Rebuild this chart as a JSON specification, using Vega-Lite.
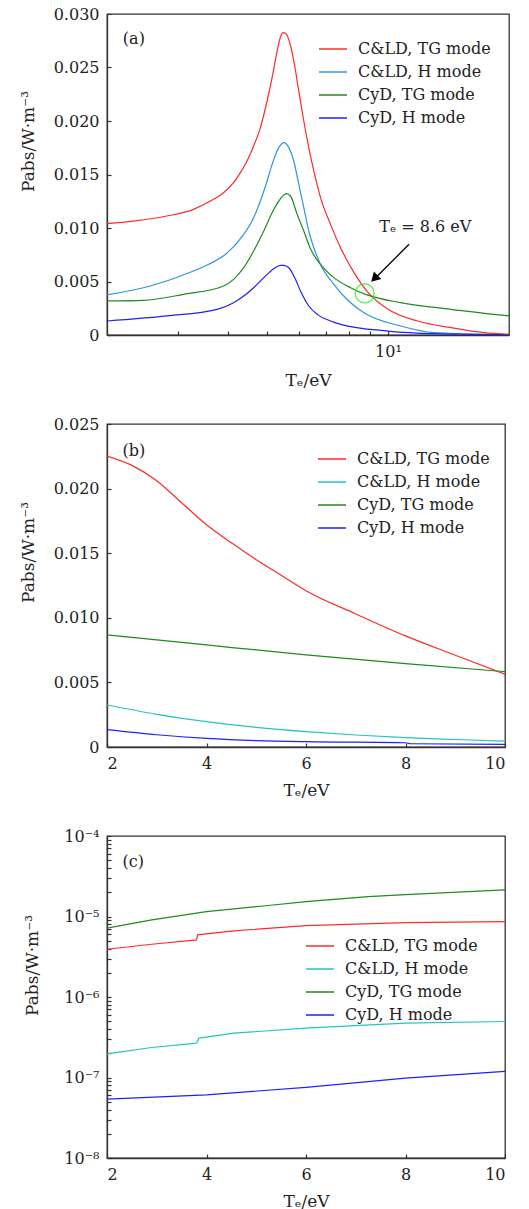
{
  "$schema": "https://vega.github.io/schema/vega-lite/v6.json",
  "background": "white",
  "padding": {"left": 18, "top": 5, "right": 5, "bottom": 5},
  "bounds": "flush",
  "spacing": 89,
  "config": {
    "font": "DejaVu Serif",
    "view": {"stroke": "#333", "strokeWidth": 1.3},
    "axis": {"grid": false, "domainColor": "#333", "domainWidth": 1.3, "tickColor": "#333", "tickSize": -4, "tickWidth": 1.2,
      "labelFont": "DejaVu Serif", "labelFontSize": 16, "labelColor": "#222", "labelPadding": 12, "labelOverlap": false,
      "titleFont": "DejaVu Serif", "titleFontSize": 17, "titleFontWeight": "normal", "titleColor": "#222"},
    "axisY": {"titleAngle": 270, "titleBaseline": "bottom", "titleAlign": "center"},
    "axisX": {"titleBaseline": "top", "titleAlign": "center"},
    "legend": {"title": null, "orient": "none", "symbolType": "stroke", "symbolSize": 784, "symbolStrokeWidth": 1.5,
      "labelFont": "DejaVu Serif", "labelFontSize": 16, "labelColor": "#222", "labelOffset": 10, "rowPadding": -9.5, "padding": 0}
  },
  "datasets": {
    "a": [
      {"series": "C&LD, TG mode", "Te": 2.0, "P": 0.01041},
      {"series": "C&LD, TG mode", "Te": 2.326, "P": 0.01065},
      {"series": "C&LD, TG mode", "Te": 2.818, "P": 0.01112},
      {"series": "C&LD, TG mode", "Te": 3.283, "P": 0.01174},
      {"series": "C&LD, TG mode", "Te": 3.614, "P": 0.01252},
      {"series": "C&LD, TG mode", "Te": 3.899, "P": 0.0133},
      {"series": "C&LD, TG mode", "Te": 4.13, "P": 0.01424},
      {"series": "C&LD, TG mode", "Te": 4.293, "P": 0.01517},
      {"series": "C&LD, TG mode", "Te": 4.461, "P": 0.01626},
      {"series": "C&LD, TG mode", "Te": 4.633, "P": 0.01766},
      {"series": "C&LD, TG mode", "Te": 4.815, "P": 0.01938},
      {"series": "C&LD, TG mode", "Te": 5.003, "P": 0.02187},
      {"series": "C&LD, TG mode", "Te": 5.149, "P": 0.02405},
      {"series": "C&LD, TG mode", "Te": 5.3, "P": 0.02654},
      {"series": "C&LD, TG mode", "Te": 5.401, "P": 0.02785},
      {"series": "C&LD, TG mode", "Te": 5.486, "P": 0.02826},
      {"series": "C&LD, TG mode", "Te": 5.59, "P": 0.0281},
      {"series": "C&LD, TG mode", "Te": 5.696, "P": 0.02732},
      {"series": "C&LD, TG mode", "Te": 5.829, "P": 0.02561},
      {"series": "C&LD, TG mode", "Te": 6.0, "P": 0.0228},
      {"series": "C&LD, TG mode", "Te": 6.174, "P": 0.02},
      {"series": "C&LD, TG mode", "Te": 6.353, "P": 0.01751},
      {"series": "C&LD, TG mode", "Te": 6.539, "P": 0.01533},
      {"series": "C&LD, TG mode", "Te": 6.795, "P": 0.01284},
      {"series": "C&LD, TG mode", "Te": 7.196, "P": 0.01034},
      {"series": "C&LD, TG mode", "Te": 7.621, "P": 0.00816},
      {"series": "C&LD, TG mode", "Te": 8.225, "P": 0.00585},
      {"series": "C&LD, TG mode", "Te": 8.884, "P": 0.00405},
      {"series": "C&LD, TG mode", "Te": 10.0, "P": 0.0024},
      {"series": "C&LD, TG mode", "Te": 11.84, "P": 0.00131},
      {"series": "C&LD, TG mode", "Te": 14.34, "P": 0.00069},
      {"series": "C&LD, TG mode", "Te": 17.35, "P": 0.00022},
      {"series": "C&LD, TG mode", "Te": 20.0, "P": 0.00006},
      {"series": "C&LD, H mode", "Te": 2.0, "P": 0.00374},
      {"series": "C&LD, H mode", "Te": 2.56, "P": 0.00458},
      {"series": "C&LD, H mode", "Te": 3.283, "P": 0.00598},
      {"series": "C&LD, H mode", "Te": 3.614, "P": 0.00668},
      {"series": "C&LD, H mode", "Te": 3.977, "P": 0.00765},
      {"series": "C&LD, H mode", "Te": 4.376, "P": 0.00941},
      {"series": "C&LD, H mode", "Te": 4.59, "P": 0.01065},
      {"series": "C&LD, H mode", "Te": 4.815, "P": 0.01252},
      {"series": "C&LD, H mode", "Te": 5.003, "P": 0.01439},
      {"series": "C&LD, H mode", "Te": 5.149, "P": 0.01595},
      {"series": "C&LD, H mode", "Te": 5.349, "P": 0.01751},
      {"series": "C&LD, H mode", "Te": 5.505, "P": 0.01798},
      {"series": "C&LD, H mode", "Te": 5.666, "P": 0.01751},
      {"series": "C&LD, H mode", "Te": 5.829, "P": 0.01626},
      {"series": "C&LD, H mode", "Te": 6.0, "P": 0.01408},
      {"series": "C&LD, H mode", "Te": 6.174, "P": 0.0119},
      {"series": "C&LD, H mode", "Te": 6.353, "P": 0.00972},
      {"series": "C&LD, H mode", "Te": 6.539, "P": 0.00816},
      {"series": "C&LD, H mode", "Te": 6.795, "P": 0.0066},
      {"series": "C&LD, H mode", "Te": 7.333, "P": 0.00474},
      {"series": "C&LD, H mode", "Te": 8.07, "P": 0.00302},
      {"series": "C&LD, H mode", "Te": 8.713, "P": 0.00209},
      {"series": "C&LD, H mode", "Te": 10.76, "P": 0.00084},
      {"series": "C&LD, H mode", "Te": 13.02, "P": 0.00022},
      {"series": "C&LD, H mode", "Te": 20.0, "P": 0.00002},
      {"series": "CyD, TG mode", "Te": 2.0, "P": 0.00318},
      {"series": "CyD, TG mode", "Te": 2.463, "P": 0.00324},
      {"series": "CyD, TG mode", "Te": 3.099, "P": 0.0038},
      {"series": "CyD, TG mode", "Te": 3.899, "P": 0.00458},
      {"series": "CyD, TG mode", "Te": 4.13, "P": 0.0052},
      {"series": "CyD, TG mode", "Te": 4.376, "P": 0.00629},
      {"series": "CyD, TG mode", "Te": 4.633, "P": 0.00785},
      {"series": "CyD, TG mode", "Te": 4.908, "P": 0.00972},
      {"series": "CyD, TG mode", "Te": 5.149, "P": 0.01143},
      {"series": "CyD, TG mode", "Te": 5.349, "P": 0.01252},
      {"series": "CyD, TG mode", "Te": 5.505, "P": 0.01308},
      {"series": "CyD, TG mode", "Te": 5.59, "P": 0.01321},
      {"series": "CyD, TG mode", "Te": 5.72, "P": 0.01299},
      {"series": "CyD, TG mode", "Te": 5.943, "P": 0.01128},
      {"series": "CyD, TG mode", "Te": 6.174, "P": 0.00972},
      {"series": "CyD, TG mode", "Te": 6.415, "P": 0.00805},
      {"series": "CyD, TG mode", "Te": 6.795, "P": 0.0066},
      {"series": "CyD, TG mode", "Te": 7.333, "P": 0.00536},
      {"series": "CyD, TG mode", "Te": 8.07, "P": 0.00442},
      {"series": "CyD, TG mode", "Te": 8.799, "P": 0.0038},
      {"series": "CyD, TG mode", "Te": 10.76, "P": 0.00302},
      {"series": "CyD, TG mode", "Te": 14.34, "P": 0.0024},
      {"series": "CyD, TG mode", "Te": 20.0, "P": 0.00178},
      {"series": "CyD, H mode", "Te": 2.0, "P": 0.00131},
      {"series": "CyD, H mode", "Te": 2.818, "P": 0.00178},
      {"series": "CyD, H mode", "Te": 3.756, "P": 0.0024},
      {"series": "CyD, H mode", "Te": 4.13, "P": 0.00302},
      {"series": "CyD, H mode", "Te": 4.376, "P": 0.00364},
      {"series": "CyD, H mode", "Te": 4.633, "P": 0.00442},
      {"series": "CyD, H mode", "Te": 4.908, "P": 0.00536},
      {"series": "CyD, H mode", "Te": 5.2, "P": 0.0062},
      {"series": "CyD, H mode", "Te": 5.401, "P": 0.00651},
      {"series": "CyD, H mode", "Te": 5.505, "P": 0.00651},
      {"series": "CyD, H mode", "Te": 5.666, "P": 0.00629},
      {"series": "CyD, H mode", "Te": 5.885, "P": 0.0052},
      {"series": "CyD, H mode", "Te": 6.058, "P": 0.00411},
      {"series": "CyD, H mode", "Te": 6.353, "P": 0.00271},
      {"series": "CyD, H mode", "Te": 6.667, "P": 0.00193},
      {"series": "CyD, H mode", "Te": 7.196, "P": 0.00131},
      {"series": "CyD, H mode", "Te": 7.621, "P": 0.001},
      {"series": "CyD, H mode", "Te": 10.0, "P": 0.00037},
      {"series": "CyD, H mode", "Te": 13.02, "P": 0.00012},
      {"series": "CyD, H mode", "Te": 20.0, "P": 0.00002}
    ],
    "b": [
      {"series": "C&LD, TG mode", "Te": 2.0, "P": 0.02252},
      {"series": "C&LD, TG mode", "Te": 2.5, "P": 0.0218},
      {"series": "C&LD, TG mode", "Te": 3.0, "P": 0.0206},
      {"series": "C&LD, TG mode", "Te": 3.5, "P": 0.0189},
      {"series": "C&LD, TG mode", "Te": 4.0, "P": 0.0172},
      {"series": "C&LD, TG mode", "Te": 4.5, "P": 0.0158},
      {"series": "C&LD, TG mode", "Te": 5.0, "P": 0.0145},
      {"series": "C&LD, TG mode", "Te": 5.5, "P": 0.0133},
      {"series": "C&LD, TG mode", "Te": 6.0, "P": 0.0121},
      {"series": "C&LD, TG mode", "Te": 7.0, "P": 0.0103},
      {"series": "C&LD, TG mode", "Te": 8.0, "P": 0.0086},
      {"series": "C&LD, TG mode", "Te": 9.0, "P": 0.0071},
      {"series": "C&LD, TG mode", "Te": 10.0, "P": 0.00563},
      {"series": "C&LD, H mode", "Te": 2.0, "P": 0.00325},
      {"series": "C&LD, H mode", "Te": 3.0, "P": 0.00253},
      {"series": "C&LD, H mode", "Te": 4.0, "P": 0.00196},
      {"series": "C&LD, H mode", "Te": 5.0, "P": 0.00152},
      {"series": "C&LD, H mode", "Te": 6.0, "P": 0.00119},
      {"series": "C&LD, H mode", "Te": 7.0, "P": 0.00093},
      {"series": "C&LD, H mode", "Te": 8.0, "P": 0.00072},
      {"series": "C&LD, H mode", "Te": 9.0, "P": 0.00058},
      {"series": "C&LD, H mode", "Te": 10.0, "P": 0.00046},
      {"series": "CyD, TG mode", "Te": 2.0, "P": 0.00868},
      {"series": "CyD, TG mode", "Te": 4.0, "P": 0.0079},
      {"series": "CyD, TG mode", "Te": 6.0, "P": 0.00713},
      {"series": "CyD, TG mode", "Te": 8.0, "P": 0.00645},
      {"series": "CyD, TG mode", "Te": 10.0, "P": 0.00583},
      {"series": "CyD, H mode", "Te": 2.0, "P": 0.00134},
      {"series": "CyD, H mode", "Te": 3.0, "P": 0.00095},
      {"series": "CyD, H mode", "Te": 4.0, "P": 0.00067},
      {"series": "CyD, H mode", "Te": 5.0, "P": 0.0005},
      {"series": "CyD, H mode", "Te": 6.0, "P": 0.00041},
      {"series": "CyD, H mode", "Te": 8.0, "P": 0.00033},
      {"series": "CyD, H mode", "Te": 8.1, "P": 0.00025},
      {"series": "CyD, H mode", "Te": 10.0, "P": 0.00021}
    ],
    "c": [
      {"series": "C&LD, TG mode", "Te": 2.0, "P": 3.92e-6},
      {"series": "C&LD, TG mode", "Te": 2.9, "P": 4.52e-6},
      {"series": "C&LD, TG mode", "Te": 3.8, "P": 5.13e-6},
      {"series": "C&LD, TG mode", "Te": 3.82, "P": 5.91e-6},
      {"series": "C&LD, TG mode", "Te": 4.55, "P": 6.63e-6},
      {"series": "C&LD, TG mode", "Te": 6.0, "P": 7.71e-6},
      {"series": "C&LD, TG mode", "Te": 8.0, "P": 8.4e-6},
      {"series": "C&LD, TG mode", "Te": 10.0, "P": 8.65e-6},
      {"series": "C&LD, H mode", "Te": 2.0, "P": 1.97e-7},
      {"series": "C&LD, H mode", "Te": 2.9, "P": 2.36e-7},
      {"series": "C&LD, H mode", "Te": 3.8, "P": 2.67e-7},
      {"series": "C&LD, H mode", "Te": 3.85, "P": 3.08e-7},
      {"series": "C&LD, H mode", "Te": 4.55, "P": 3.56e-7},
      {"series": "C&LD, H mode", "Te": 6.0, "P": 4.1e-7},
      {"series": "C&LD, H mode", "Te": 8.0, "P": 4.73e-7},
      {"series": "C&LD, H mode", "Te": 10.0, "P": 4.96e-7},
      {"series": "CyD, TG mode", "Te": 2.0, "P": 7.15e-6},
      {"series": "CyD, TG mode", "Te": 2.9, "P": 9.1e-6},
      {"series": "CyD, TG mode", "Te": 4.0, "P": 1.15e-5},
      {"series": "CyD, TG mode", "Te": 5.24, "P": 1.37e-5},
      {"series": "CyD, TG mode", "Te": 6.0, "P": 1.53e-5},
      {"series": "CyD, TG mode", "Te": 7.25, "P": 1.77e-5},
      {"series": "CyD, TG mode", "Te": 8.0, "P": 1.87e-5},
      {"series": "CyD, TG mode", "Te": 10.0, "P": 2.14e-5},
      {"series": "CyD, H mode", "Te": 2.0, "P": 5.39e-8},
      {"series": "CyD, H mode", "Te": 4.0, "P": 6.1e-8},
      {"series": "CyD, H mode", "Te": 6.0, "P": 7.53e-8},
      {"series": "CyD, H mode", "Te": 8.0, "P": 9.84e-8},
      {"series": "CyD, H mode", "Te": 10.0, "P": 1.19e-7}
    ],
    "annA_circle": [{"Te": 8.75, "P": 0.0039}],
    "annA_arrow": [{"Te": 11.28, "P": 0.00848, "Te2": 9.32, "P2": 0.00535}],
    "annA_head": [{"Te": 9.25, "P": 0.00528}],
    "annA_text": [{"Te": 12.38, "P": 0.0101, "label": "Tₑ = 8.6 eV"}],
    "labA": [{"Te": 2.19, "P": 0.02766, "label": "(a)"}],
    "labB": [{"Te": 2.31, "P": 0.02293, "label": "(b)"}],
    "labC": [{"Te": 2.31, "P": 4.7e-5, "label": "(c)"}]
  },
  "vconcat": [
    {
      "width": 402,
      "height": 321,
      "encoding": {
        "x": {"field": "Te", "type": "quantitative",
          "scale": {"type": "log", "domain": [2, 20], "nice": false},
          "axis": {"values": [3, 4, 5, 6, 7, 8, 9, 10], "labelExpr": "datum.value == 10 ? '10¹' : ''", "labelDx": -3, "title": "Tₑ/eV", "titleY": 37}},
        "y": {"field": "P", "type": "quantitative",
          "scale": {"domain": [0, 0.03], "nice": false, "zero": false},
          "axis": {"values": [0, 0.005, 0.01, 0.015, 0.02, 0.025, 0.03], "labelExpr": "datum.value == 0 ? '0' : format(datum.value, '.3f')", "title": "Pabs/W·m⁻³", "titleX": -70, "titleY": 127}}
      },
      "layer": [
        {"data": {"name": "a"}, "mark": {"type": "line", "strokeWidth": 1.2, "clip": true, "interpolate": "monotone"},
          "encoding": {"color": {"field": "series", "type": "nominal",
            "scale": {"domain": ["C&LD, TG mode", "C&LD, H mode", "CyD, TG mode", "CyD, H mode"], "range": ["#ff2a2a", "#2e96dc", "#1f8a1f", "#1f1fff"]},
            "legend": {"legendX": 211, "legendY": 20}}}},
        {"data": {"name": "annA_circle"}, "mark": {"type": "point", "shape": "circle", "size": 361, "filled": false, "stroke": "#22ee22", "strokeWidth": 1.5}},
        {"data": {"name": "annA_arrow"}, "mark": {"type": "rule", "color": "black", "strokeWidth": 1.3},
          "encoding": {"x2": {"field": "Te2"}, "y2": {"field": "P2"}}},
        {"data": {"name": "annA_head"}, "mark": {"type": "point", "shape": "triangle-up", "size": 110, "filled": true, "color": "black", "angle": 225, "opacity": 1}},
        {"data": {"name": "annA_text"}, "mark": {"type": "text", "fontSize": 16, "font": "DejaVu Serif", "align": "center", "baseline": "middle", "color": "#222"},
          "encoding": {"text": {"field": "label"}}},
        {"data": {"name": "labA"}, "mark": {"type": "text", "fontSize": 16, "font": "DejaVu Serif", "align": "left", "baseline": "middle", "color": "#222"},
          "encoding": {"text": {"field": "label"}}}
      ]
    },
    {
      "width": 398,
      "height": 323,
      "encoding": {
        "x": {"field": "Te", "type": "quantitative",
          "scale": {"domain": [2, 10], "nice": false, "zero": false},
          "axis": {"values": [2, 4, 6, 8, 10], "title": "Tₑ/eV", "titleY": 35}},
        "y": {"field": "P", "type": "quantitative",
          "scale": {"domain": [0, 0.025], "nice": false},
          "axis": {"values": [0, 0.005, 0.01, 0.015, 0.02, 0.025], "labelExpr": "datum.value == 0 ? '0' : format(datum.value, '.3f')", "title": "Pabs/W·m⁻³", "titleX": -70, "titleY": 128}}
      },
      "layer": [
        {"data": {"name": "b"}, "mark": {"type": "line", "strokeWidth": 1.2, "clip": true, "interpolate": "monotone"},
          "encoding": {"color": {"field": "series", "type": "nominal",
            "scale": {"domain": ["C&LD, TG mode", "C&LD, H mode", "CyD, TG mode", "CyD, H mode"], "range": ["#ff2a2a", "#22c4c4", "#1f8a1f", "#1f1fff"]},
            "legend": {"legendX": 210, "legendY": 20,
              "encode": {"symbols": {"update": {"stroke": {"signal": "datum.value == 'C&LD, H mode' ? '#2e96dc' : datum.value == 'C&LD, TG mode' ? '#ff2a2a' : datum.value == 'CyD, TG mode' ? '#1f8a1f' : '#1f1fff'"}}}}}}}},
        {"data": {"name": "labB"}, "mark": {"type": "text", "fontSize": 16, "font": "DejaVu Serif", "align": "left", "baseline": "middle", "color": "#222"},
          "encoding": {"text": {"field": "label"}}}
      ]
    },
    {
      "width": 398,
      "height": 322,
      "encoding": {
        "x": {"field": "Te", "type": "quantitative",
          "scale": {"domain": [2, 10], "nice": false, "zero": false},
          "axis": {"values": [2, 4, 6, 8, 10], "title": "Tₑ/eV", "titleY": 35}},
        "y": {"field": "P", "type": "quantitative",
          "scale": {"type": "log", "domain": [1e-8, 1e-4], "nice": false},
          "axis": {"values": [1e-8, 2e-8, 3e-8, 4e-8, 5e-8, 6e-8, 7e-8, 8e-8, 9e-8, 1e-7, 2e-7, 3e-7, 4e-7, 5e-7, 6e-7, 7e-7, 8e-7, 9e-7, 1e-6, 2e-6, 3e-6, 4e-6, 5e-6, 6e-6, 7e-6, 8e-6, 9e-6, 1e-5, 2e-5, 3e-5, 4e-5, 5e-5, 6e-5, 7e-5, 8e-5, 9e-5, 1e-4],
            "labelExpr": "abs(log(datum.value)/LN10 - round(log(datum.value)/LN10)) > 0.01 ? '' : round(log(datum.value)/LN10) == -4 ? '10⁻⁴' : round(log(datum.value)/LN10) == -5 ? '10⁻⁵' : round(log(datum.value)/LN10) == -6 ? '10⁻⁶' : round(log(datum.value)/LN10) == -7 ? '10⁻⁷' : '10⁻⁸'",
            "encode": {"ticks": {"update": {"x2": {"signal": "abs(log(datum.value)/LN10 - round(log(datum.value)/LN10)) < 0.01 ? 8 : 4"}}}},
            "title": "Pabs/W·m⁻³", "titleX": -66, "titleY": 129}}
      },
      "layer": [
        {"data": {"name": "c"}, "mark": {"type": "line", "strokeWidth": 1.2, "clip": true},
          "encoding": {"color": {"field": "series", "type": "nominal",
            "scale": {"domain": ["C&LD, TG mode", "C&LD, H mode", "CyD, TG mode", "CyD, H mode"], "range": ["#ff2a2a", "#22c4c4", "#1f8a1f", "#1f1fff"]},
            "legend": {"legendX": 198, "legendY": 95,
              "encode": {"symbols": {"update": {"stroke": {"signal": "datum.value == 'C&LD, H mode' ? '#2e96dc' : datum.value == 'C&LD, TG mode' ? '#ff2a2a' : datum.value == 'CyD, TG mode' ? '#1f8a1f' : '#1f1fff'"}}}}}}}},
        {"data": {"name": "labC"}, "mark": {"type": "text", "fontSize": 16, "font": "DejaVu Serif", "align": "left", "baseline": "middle", "color": "#222"},
          "encoding": {"text": {"field": "label"}}}
      ]
    }
  ],
  "resolve": {"scale": {"color": "independent", "x": "independent", "y": "independent"}}
}
